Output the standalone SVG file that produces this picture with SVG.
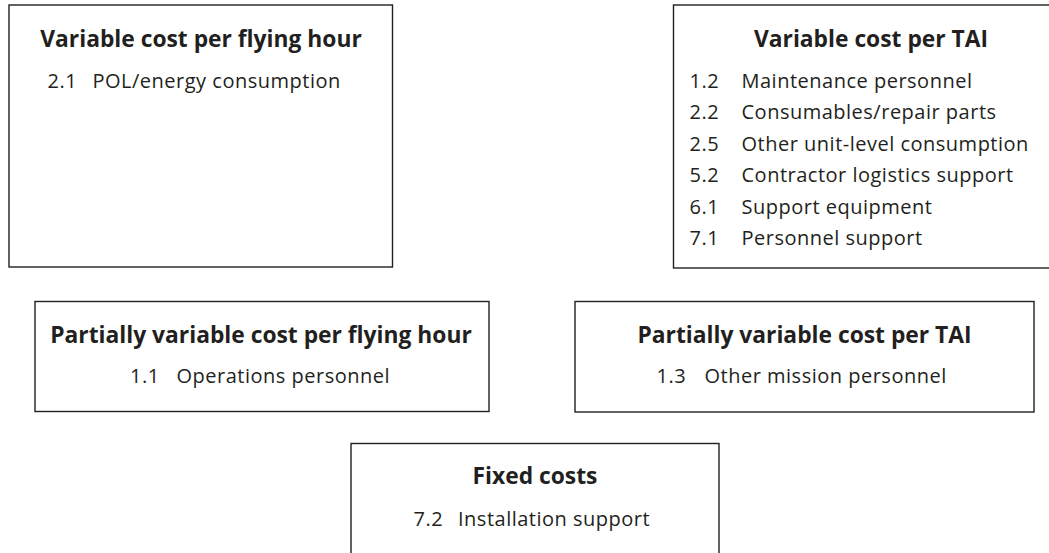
<svg xmlns="http://www.w3.org/2000/svg" width="1049" height="553" viewBox="0 0 1049 553">
  <style>
    .box { fill: #ffffff; stroke: #231f20; stroke-width: 1.4; }
    .title { font-family: "Open Sans", "Noto Sans", "Liberation Sans", sans-serif; font-weight: bold; font-size: 22.8px; fill: #231f20; text-anchor: middle; }
    .item { font-family: "Open Sans", "Noto Sans", "Liberation Sans", sans-serif; font-size: 20px; letter-spacing: 0.5px; fill: #231f20; }
  </style>
  <rect width="1049" height="553" fill="#ffffff"/>

  <g id="var-flying-hour">
    <rect class="box" x="9" y="5" width="383.5" height="262"/>
    <text class="title" x="201" y="46.7">Variable cost per flying hour</text>
    <text class="item" y="87.7"><tspan x="47.5">2.1</tspan><tspan x="92.5">POL/energy consumption</tspan></text>
  </g>

  <g id="var-tai">
    <rect class="box" x="673.5" y="5" width="400" height="263"/>
    <text class="title" x="871" y="46.7">Variable cost per TAI</text>
    <text class="item" y="87.7"><tspan x="689.5">1.2</tspan><tspan x="741.5">Maintenance personnel</tspan></text>
    <text class="item" y="119.2"><tspan x="689.5">2.2</tspan><tspan x="741.5">Consumables/repair parts</tspan></text>
    <text class="item" y="150.7"><tspan x="689.5">2.5</tspan><tspan x="741.5">Other unit-level consumption</tspan></text>
    <text class="item" y="182.2"><tspan x="689.5">5.2</tspan><tspan x="741.5">Contractor logistics support</tspan></text>
    <text class="item" y="213.7"><tspan x="689.5">6.1</tspan><tspan x="741.5">Support equipment</tspan></text>
    <text class="item" y="245.2"><tspan x="689.5">7.1</tspan><tspan x="741.5">Personnel support</tspan></text>
  </g>

  <g id="partial-flying-hour">
    <rect class="box" x="35" y="301.5" width="454" height="110"/>
    <text class="title" x="261" y="343.3">Partially variable cost per flying hour</text>
    <text class="item" y="383"><tspan x="130">1.1</tspan><tspan x="176.5">Operations personnel</tspan></text>
  </g>

  <g id="partial-tai">
    <rect class="box" x="575" y="301.5" width="459" height="110.5"/>
    <text class="title" x="804.5" y="343.3">Partially variable cost per TAI</text>
    <text class="item" y="383"><tspan x="656.5">1.3</tspan><tspan x="704.5">Other mission personnel</tspan></text>
  </g>

  <g id="fixed">
    <rect class="box" x="351" y="443.5" width="368" height="130"/>
    <text class="title" x="535" y="483.5">Fixed costs</text>
    <text class="item" y="526"><tspan x="413.5">7.2</tspan><tspan x="458">Installation support</tspan></text>
  </g>

  <g id="connectors"></g>
</svg>
